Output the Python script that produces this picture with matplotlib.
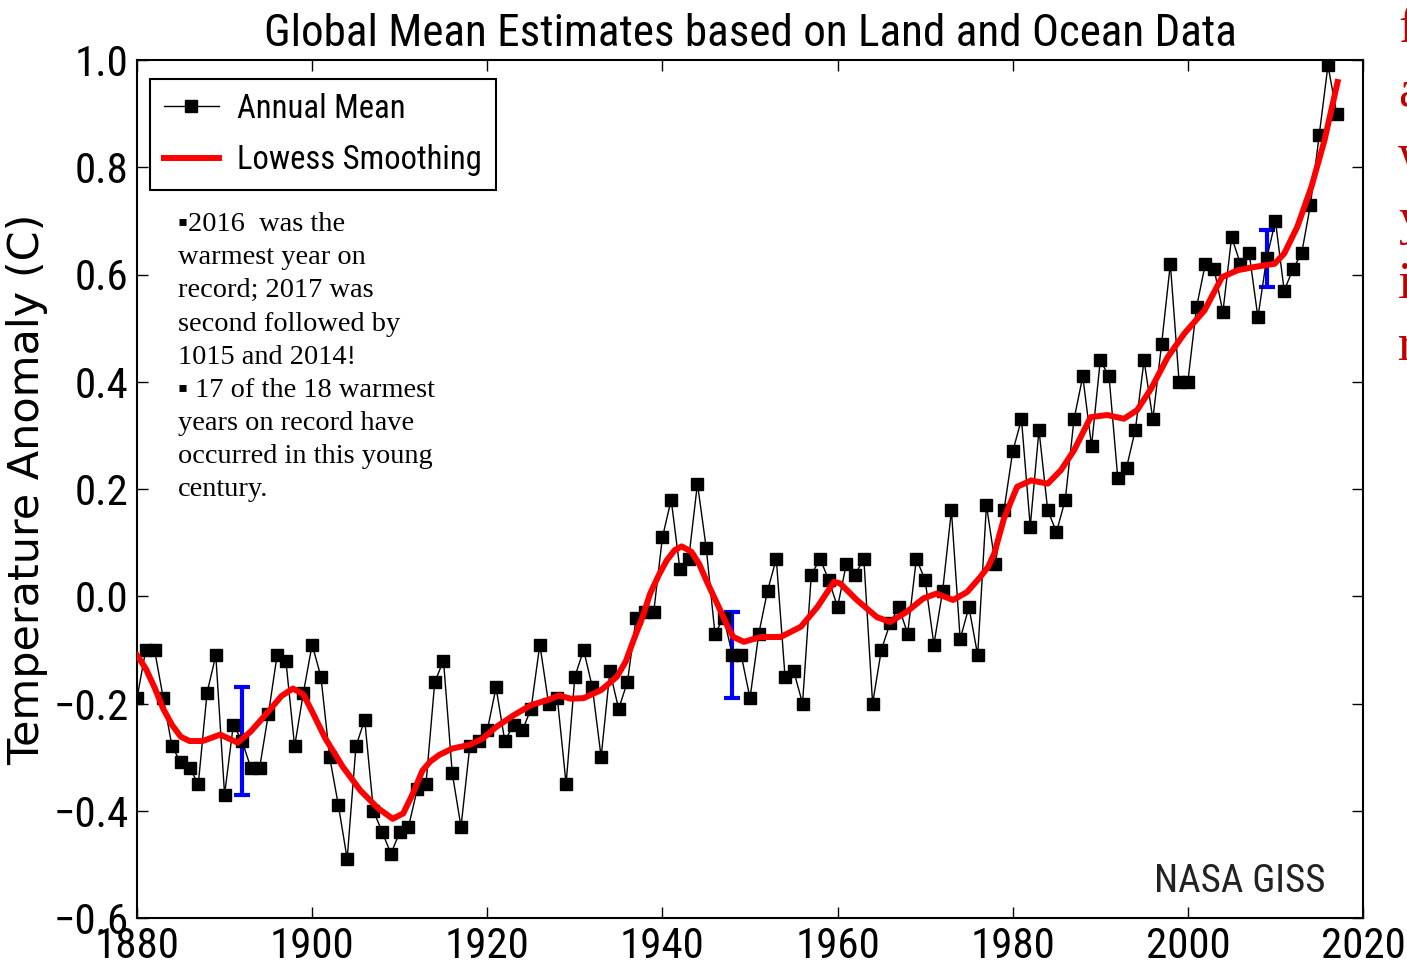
"""
Global mean temperature anomaly (NASA GISS) - annual mean and lowess curve
"""
import matplotlib
matplotlib.use("Agg")
import matplotlib.pyplot as plt

# Datos
years = list(range(1880, 2018))
annual_mean = [
    -0.19, -0.10, -0.10, -0.19, -0.28, -0.31, -0.32, -0.35, -0.18, -0.11,
    -0.37, -0.24, -0.27, -0.32, -0.32, -0.22, -0.11, -0.12, -0.28, -0.18,
    -0.09, -0.15, -0.30, -0.39, -0.49, -0.28, -0.23, -0.40, -0.44, -0.48,
    -0.44, -0.43, -0.36, -0.35, -0.16, -0.12, -0.33, -0.43, -0.28, -0.27,
    -0.25, -0.17, -0.27, -0.24, -0.25, -0.21, -0.09, -0.20, -0.19, -0.35,
    -0.15, -0.10, -0.17, -0.30, -0.14, -0.21, -0.16, -0.04, -0.03, -0.03,
    0.11, 0.18, 0.05, 0.07, 0.21, 0.09, -0.07, -0.04, -0.11, -0.11,
    -0.19, -0.07, 0.01, 0.07, -0.15, -0.14, -0.20, 0.04, 0.07, 0.03,
    -0.02, 0.06, 0.04, 0.07, -0.20, -0.10, -0.05, -0.02, -0.07, 0.07,
    0.03, -0.09, 0.01, 0.16, -0.08, -0.02, -0.11, 0.17, 0.06, 0.16,
    0.27, 0.33, 0.13, 0.31, 0.16, 0.12, 0.18, 0.33, 0.41, 0.28,
    0.44, 0.41, 0.22, 0.24, 0.31, 0.44, 0.33, 0.47, 0.62, 0.40,
    0.40, 0.54, 0.62, 0.61, 0.53, 0.67, 0.62, 0.64, 0.52, 0.63,
    0.70, 0.57, 0.61, 0.64, 0.73, 0.86, 0.99, 0.90,
]

lowess_years = [
    1880, 1881, 1882, 1883, 1884, 1885, 1886, 1887.5, 1889.5, 1891.5,
    1893, 1895, 1896.5, 1897.8, 1899, 1900, 1901.5, 1903.5, 1905.5, 1907.5,
    1909.2, 1910.4, 1911.5, 1912.6, 1913.5, 1914.5, 1916, 1918, 1919.5, 1921,
    1923, 1925, 1927, 1928.2, 1929.5, 1931, 1933, 1934.8, 1935.8, 1936.7,
    1937.7, 1938.6, 1939.6, 1940.5, 1941.4, 1942.2, 1943.3, 1944.2, 1945, 1945.8,
    1946.6, 1947.4, 1948.1, 1949.3, 1951.2, 1953.5, 1955.8, 1957.7, 1959.6, 1960.3,
    1962.2, 1964.5, 1966, 1967.9, 1969.8, 1971.3, 1973.2, 1974.8, 1976.3, 1977.2,
    1977.9, 1979, 1980.5, 1982.1, 1984, 1985.5, 1987, 1988.9, 1990.8, 1992.7,
    1994.2, 1995.8, 1997.7, 1999.6, 2001.9, 2003.9, 2005.7, 2007.6, 2009.9, 2011,
    2012.5, 2014.1, 2015.6, 2017.1,
]
lowess_vals = [
    -0.11, -0.135, -0.17, -0.21, -0.24, -0.262, -0.27, -0.27, -0.258, -0.273,
    -0.252, -0.215, -0.186, -0.172, -0.183, -0.215, -0.265, -0.318, -0.362, -0.395,
    -0.415, -0.405, -0.368, -0.325, -0.308, -0.296, -0.284, -0.277, -0.265, -0.244,
    -0.222, -0.203, -0.193, -0.185, -0.191, -0.19, -0.175, -0.15, -0.122, -0.082,
    -0.04, 0.005, 0.04, 0.067, 0.086, 0.093, 0.083, 0.06, 0.03, 0.002,
    -0.026, -0.055, -0.076, -0.085, -0.076, -0.076, -0.057, -0.02, 0.027, 0.024,
    -0.007, -0.039, -0.048, -0.029, -0.004, 0.005, -0.007, 0.008, 0.036, 0.055,
    0.08, 0.145, 0.204, 0.216, 0.21, 0.235, 0.272, 0.334, 0.338, 0.331,
    0.347, 0.387, 0.446, 0.49, 0.533, 0.595, 0.608, 0.614, 0.62, 0.639,
    0.689, 0.763, 0.85, 0.959,
]

# Barras de incertidumbre
err_years = [1892, 1948, 2009]
err_center = [-0.27, -0.11, 0.63]
err_size = [0.10, 0.08, 0.053]

x_ticks = [1880, 1900, 1920, 1940, 1960, 1980, 2000, 2020]
y_ticks = [-0.6, -0.4, -0.2, 0.0, 0.2, 0.4, 0.6, 0.8, 1.0]

note_lines = [
    "\u25aa2016  was the",
    "warmest year on",
    "record; 2017 was",
    "second followed by",
    "1015 and 2014!",
    "\u25aa 17 of the 18 warmest",
    "years on record have",
    "occurred in this young",
    "century.",
]
side_words = ["five", "among", "warmest", "years", "in", "record"]

NARROW = ['Liberation Sans Narrow', 'DejaVu Sans Condensed', 'Roboto Condensed', 'DejaVu Sans']
SERIF = ['Liberation Serif', 'DejaVu Serif']

W, H = 1407, 966
fig = plt.figure(figsize=(W / 100, H / 100), dpi=100)
fig.patch.set_facecolor('white')
ax = fig.add_axes([137 / W, 1 - 918 / H, (1363 - 137) / W, (918 - 60) / H])

ax.errorbar(err_years, err_center, yerr=err_size, fmt='none', ecolor='blue',
            elinewidth=3, capsize=6, capthick=3, zorder=2)
ax.plot(years, annual_mean, color='black', linewidth=1, marker='s',
        markersize=9, markerfacecolor='black', markeredgecolor='black',
        label='Annual Mean', zorder=3)
ax.plot(lowess_years, lowess_vals, color='red', linewidth=4.3,
        solid_joinstyle='round', label='Lowess Smoothing', zorder=4)

ax.set_xlim(1880, 2020)
ax.set_ylim(-0.6, 1.0)
ax.set_xticks(x_ticks)
ax.set_yticks(y_ticks)
ax.set_yticklabels([f"{v:.1f}".replace('-', '\u2212') for v in y_ticks])
ax.tick_params(direction='in', length=8, width=1, top=True, right=True,
               labelsize=31, pad=6)
for lab in ax.get_xticklabels() + ax.get_yticklabels():
    lab.set_family(NARROW)
for sp in ax.spines.values():
    sp.set_linewidth(1.5)

ax.set_title('Global Mean Estimates based on Land and Ocean Data',
             fontsize=32.5, family=NARROW, pad=10)
ax.set_ylabel('Temperature Anomaly (C)', fontsize=31, va='center')
ax.yaxis.set_label_coords((27 - 137) / 1226, 0.5)

leg = ax.legend(loc='upper left', bbox_to_anchor=((150 - 137) / 1226, 1 - (79 - 60) / 858),
                borderaxespad=0, fancybox=False, edgecolor='black',
                prop={'family': NARROW, 'size': 23.5}, handlelength=1.7,
                handletextpad=0.55, labelspacing=0.6, borderpad=0.42,
                framealpha=1)
leg.get_frame().set_linewidth(1.5)

ax.text((1325 - 137) / 1226, (918 - 892) / 858, 'NASA GISS',
        transform=ax.transAxes, ha='right', va='baseline', fontsize=28,
        family=NARROW, color='#222222')

fig.text(178 / W, 1 - 212 / H, "\n".join(note_lines), ha='left', va='top',
         fontsize=20.4, family=SERIF, linespacing=1.43, color='black')

baselines = [42, 106, 170, 234, 298, 360]
for word, yb in zip(side_words, baselines):
    fig.text(1398 / W, 1 - yb / H, word, ha='left', va='baseline',
             fontsize=38, family=SERIF, color='#C00000')

fig.savefig('out.png', dpi=100)
